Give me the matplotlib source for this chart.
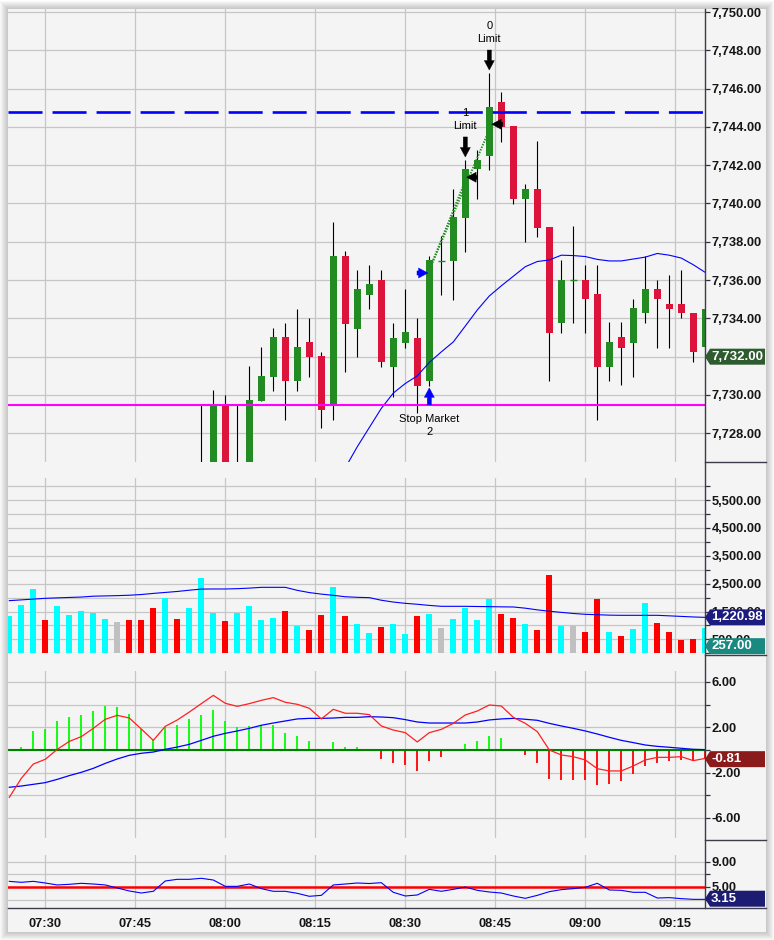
import numpy as np
import matplotlib
matplotlib.use("Agg")
import matplotlib.pyplot as plt
from matplotlib.patches import Polygon, Rectangle
from matplotlib.lines import Line2D
from matplotlib.transforms import IdentityTransform
from matplotlib.ticker import FuncFormatter

plt.rcParams['font.family'] = ['Liberation Sans', 'DejaVu Sans']
plt.rcParams['font.weight'] = 'bold'
plt.rcParams['lines.scale_dashes'] = False

# ---- data (2-minute bars, minutes from 07:30) ----
minutes = np.arange(-6, 111, 2)          # 07:24 ... 09:20
first_candle = 16                         # candles before 07:56 sit below the visible range

opens = [7725.8, 7725.9, 7729.48, 7725.6, 7726.0, 7729.7, 7730.96, 7733.05, 7730.75, 7732.77,
         7732.04, 7729.53, 7737.26, 7733.46, 7735.22, 7736.0, 7731.48, 7732.73, 7733.0, 7730.75,
         7737.0, 7737.0, 7739.26, 7741.79, 7742.5, 7745.3, 7744.05, 7740.24, 7740.76, 7738.77,
         7733.74, 7736.0, 7736.0, 7735.27, 7731.48, 7733.05, 7732.73, 7734.26, 7735.53, 7734.75,
         7734.75, 7734.26, 7732.5]
closes = [7726.2, 7729.48, 7725.8, 7726.0, 7729.74, 7731.0, 7733.05, 7730.75, 7732.52, 7732.0,
          7729.2, 7737.26, 7733.7, 7735.53, 7735.8, 7731.74, 7733.0, 7733.27, 7730.49, 7737.05,
          7737.0, 7739.3, 7741.8, 7742.27, 7745.05, 7744.0, 7740.24, 7740.76, 7738.74, 7733.25,
          7736.0, 7736.0, 7735.0, 7731.48, 7732.78, 7732.47, 7734.52, 7735.53, 7735.0, 7734.49,
          7734.26, 7732.23, 7734.5]
highs = [7729.5, 7730.26, 7730.0, 7729.5, 7731.5, 7732.5, 7733.5, 7733.74, 7734.5, 7734.0,
         7732.26, 7739.05, 7737.5, 7736.53, 7736.8, 7736.53, 7733.74, 7735.53, 7734.0, 7737.26,
         7738.3, 7740.76, 7742.27, 7742.8, 7746.83, 7745.8, 7744.05, 7741.0, 7743.26, 7738.77,
         7737.05, 7738.8, 7736.8, 7736.8, 7733.8, 7733.8, 7735.0, 7737.26, 7736.0, 7736.27,
         7736.53, 7734.26, 7734.5]
lows = [7725.5, 7725.5, 7725.4, 7725.3, 7725.8, 7729.7, 7730.2, 7728.7, 7730.2, 7730.96,
        7728.26, 7728.7, 7731.2, 7732.0, 7734.5, 7731.48, 7729.9, 7732.47, 7729.04, 7730.49,
        7735.2, 7734.96, 7737.48, 7740.24, 7741.75, 7743.2, 7739.97, 7738.0, 7738.27, 7730.75,
        7733.25, 7733.74, 7733.25, 7728.7, 7730.75, 7730.5, 7730.96, 7733.74, 7732.47, 7732.47,
        7734.0, 7731.74, 7732.5]

price_ma_start = 28
price_ma = [7726.2, 7727.3, 7728.3, 7729.3, 7730.1, 7730.6, 7731.0, 7731.7, 7732.25, 7732.77,
            7733.6, 7734.44, 7735.17, 7735.7, 7736.2, 7736.7, 7736.97, 7737.05, 7737.3, 7737.28,
            7737.23, 7737.08, 7737.0, 7737.0, 7737.1, 7737.2, 7737.39, 7737.3, 7737.15, 7736.8,
            7736.4]

stop_level = 7729.48
target_level = 7744.78
last_price = 7732.0

volume = [1340, 1734, 2309, 1196, 1699, 1376, 1519, 1447, 1232, 1124,
          1196, 1196, 1627, 1998, 1232, 1627, 2703, 1447, 1160, 1447,
          1699, 1196, 1268, 1519, 993, 837, 1376, 2380, 1340, 1053,
          730, 945, 1053, 694, 1340, 1411, 909, 1232, 1639, 1196,
          1950, 1411, 1268, 1053, 837, 2811, 993, 993, 766, 1950,
          766, 622, 873, 1806, 1089, 766, 478, 514, 900]
vol_dir = ['u', 'u', 'u', 'd', 'u', 'u', 'u', 'u', 'u', 'n',
           'd', 'd', 'd', 'u', 'd', 'u', 'u', 'u', 'd', 'u',
           'u', 'u', 'u', 'd', 'u', 'd', 'd', 'u', 'd', 'u',
           'u', 'd', 'u', 'u', 'd', 'u', 'n', 'u', 'u', 'u',
           'u', 'd', 'd', 'u', 'd', 'd', 'u', 'n', 'd', 'd',
           'u', 'd', 'u', 'u', 'd', 'd', 'd', 'd', 'u']
vol_ma = [1890, 1918, 1946, 1974, 1990, 2005, 2020, 2050, 2060, 2070,
          2085, 2110, 2150, 2185, 2220, 2265, 2305, 2309, 2309, 2320,
          2340, 2368, 2368, 2368, 2260, 2180, 2125, 2080, 2030, 2010,
          1998, 1905, 1840, 1794, 1760, 1720, 1687, 1687, 1687, 1680,
          1675, 1668, 1663, 1620, 1560, 1510, 1470, 1430, 1400, 1385,
          1370, 1364, 1364, 1364, 1364, 1345, 1325, 1305, 1290]

macd = [-4.18, -2.5, -1.24, -0.82, 0.06, 0.76, 1.18, 1.91, 2.71, 3.06,
        2.82, 1.85, 0.85, 2.09, 2.65, 3.35, 4.09, 4.82, 4.12, 3.85,
        4.09, 4.38, 4.62, 4.21, 4.03, 3.68, 2.74, 3.59, 3.24, 3.24,
        3.12, 2.12, 1.76, 1.53, 0.71, 1.53, 1.82, 2.35, 3.09, 3.44,
        3.97, 3.88, 2.88, 2.35, 1.62, 0.0, -0.44, -0.59, -0.88, -1.65,
        -1.85, -1.85, -1.41, -0.88, -0.65, -0.65, -0.59, -0.94, -0.74]
macd_avg = [-3.29, -3.18, -3.03, -2.88, -2.59, -2.26, -1.97, -1.62, -1.18, -0.79,
            -0.47, -0.29, -0.18, 0.06, 0.26, 0.5, 0.85, 1.21, 1.47, 1.68,
            1.91, 2.18, 2.38, 2.56, 2.74, 2.79, 2.79, 2.82, 2.88, 2.88,
            2.94, 2.91, 2.85, 2.68, 2.47, 2.38, 2.38, 2.38, 2.38, 2.47,
            2.65, 2.74, 2.79, 2.71, 2.62, 2.35, 2.12, 1.91, 1.68, 1.41,
            1.12, 0.85, 0.65, 0.44, 0.32, 0.24, 0.15, 0.06, 0.03]
macd_diff = [0.0, 0.24, 1.68, 1.85, 2.56, 2.91, 3.09, 3.44, 3.88, 3.79,
             3.18, 1.88, 0.88, 2.03, 2.21, 2.74, 3.09, 3.53, 2.56, 2.0,
             2.12, 2.18, 2.21, 1.5, 1.24, 0.79, -0.06, 0.74, 0.26, 0.26,
             0.12, -0.79, -1.12, -1.32, -1.85, -0.97, -0.65, 0.09, 0.56, 0.79,
             1.24, 1.06, 0.09, -0.44, -1.15, -2.53, -2.62, -2.62, -2.62, -3.06,
             -2.97, -2.71, -2.09, -1.41, -1.15, -0.97, -0.88, -0.97, -0.8]

osc = [5.89, 5.74, 5.89, 5.63, 5.32, 5.42, 5.58, 5.47, 5.32, 4.84,
       4.37, 4.05, 4.32, 5.95, 6.21, 6.21, 6.37, 6.1, 5.1, 5.1,
       5.47, 4.74, 4.32, 4.32, 4.0, 3.53, 3.68, 5.32, 5.47, 5.63,
       5.55, 5.68, 4.16, 3.58, 3.74, 4.63, 4.32, 4.63, 5.0, 4.47,
       4.21, 4.05, 3.58, 3.21, 3.68, 4.26, 4.58, 4.74, 4.95, 5.58,
       4.53, 4.47, 4.16, 4.16, 3.26, 3.32, 3.16, 3.05, 3.05]
osc_level = 5.0

time_ticks = [0, 15, 30, 45, 60, 75, 90, 105]
time_labels = ['07:30', '07:45', '08:00', '08:15', '08:30', '08:45', '09:00', '09:15']

# ---- layout (pixels) ----
W, H = 774, 940
BG = '#f4f4f4'
GRID = '#c6c6c6'
LEFT, RIGHT = 8, 705
XMIN, XMAX = -6.22, 109.95

fig = plt.figure(figsize=(W / 100, H / 100), dpi=100)
fig.patch.set_facecolor('white')

# soft shadow round the chart frame
for k in range(8, 0, -1):
    fig.add_artist(Rectangle(((8 - k) / W, 1 - (932 + k) / H), (758 + 2 * k) / W, (923 + 2 * k) / H,
                             transform=fig.transFigure, facecolor='black', edgecolor='none',
                             alpha=0.028, zorder=-10))
fig.add_artist(Rectangle((8 / W, 1 - 932 / H), 758 / W, 923 / H, transform=fig.transFigure,
                         facecolor=BG, edgecolor='none', zorder=-9))


def make_ax(top, bottom, ylim, ticks, fmt):
    ax = fig.add_axes([LEFT / W, 1 - bottom / H, (RIGHT - LEFT) / W, (bottom - top) / H])
    ax.set_facecolor('none')
    for s in ax.spines.values():
        s.set_visible(False)
    ax.set_xlim(XMIN, XMAX)
    ax.set_ylim(*ylim)
    ax.yaxis.tick_right()
    ax.set_yticks(ticks)
    ax.yaxis.set_major_formatter(FuncFormatter(fmt))
    ax.set_xticks(time_ticks)
    ax.tick_params(axis='y', direction='out', length=3.5, width=0.9, pad=1.2,
                   colors='#33333f', labelcolor='#151515', labelsize=9.3)
    ax.tick_params(axis='x', length=0, labelbottom=False)
    ax.grid(True, color=GRID, lw=0.9)
    ax.set_axisbelow(True)
    return ax


# the 7,732.00 tick sits under the last-price flag, so its label is left out
ax_p = make_ax(9, 462, (7726.5, 7750.157), np.arange(7728, 7751, 2),
               lambda v, p: '' if abs(v - last_price) < 0.5 else f'{v:,.2f}')
ax_v = make_ax(478, 653.33, (0, 6291), np.arange(0, 6001, 500),
               lambda v, p: f'{v:,.2f}' if v % 1000 == 500 else '')
ax_m = make_ax(671, 837.7, (-7.74, 6.97), np.arange(-6, 7, 2),
               lambda v, p: f'{v:.2f}' if abs(v) in (2, 6) else '')
ax_o = make_ax(855, 908.3, (1.636, 10.05), [3, 5, 7, 9],
               lambda v, p: f'{v:.2f}' if v in (5, 9) else '')
ax_o.set_xticklabels(time_labels)
ax_o.tick_params(axis='x', labelbottom=True, pad=7, labelsize=9.3, labelcolor='#151515')

# ---- price panel ----
cx = minutes[first_candle:]
up_c, dn_c = '#228b22', '#dc143c'
ax_p.vlines(cx, lows, highs, color='black', lw=0.8, zorder=2)
for x, o, c in zip(cx, opens, closes):
    if abs(c - o) < 1e-9:
        ax_p.hlines(o, x - 0.55, x + 0.55, color=up_c, lw=1.0, zorder=3)
    else:
        ax_p.bar(x, abs(c - o), bottom=min(o, c), width=1.15,
                 color=up_c if c > o else dn_c, zorder=3)
ax_p.plot(minutes[price_ma_start:], price_ma, color='#0000ff', lw=0.8, zorder=4)
ax_p.axhline(stop_level, color='#ff00ff', lw=1.5, zorder=4)
ax_p.axhline(target_level, color='#0000ff', lw=1.9, ls=(0, (24.5, 7.2)), zorder=4)

# trade markers
entry = (63.78, 7736.37)
exit1 = (70.23, 7741.37)
exit2 = (74.4, 7744.14)
for ex in (exit1, exit2):
    ax_p.plot([entry[0], ex[0]], [entry[1], ex[1]], color='#228b22', lw=1.4, ls=(0, (1, 1)), zorder=5)


def arrow(x, y, dx_px, dy_px, color):
    ax_p.annotate('', xy=(x, y), xytext=(dx_px * 0.72, dy_px * 0.72), textcoords='offset points',
                  arrowprops=dict(arrowstyle='simple,head_length=0.8,head_width=0.85,tail_width=0.35',
                                  fc=color, ec=color, lw=0.3, shrinkA=0, shrinkB=0,
                                  mutation_scale=8.5), zorder=6)


arrow(entry[0], entry[1], -11, 0, '#0000ff')
arrow(64, 7730.37, 0, -17, '#0000ff')
arrow(70, 7742.43, 0, 20, 'black')
arrow(74, 7746.97, 0, 20, 'black')
arrow(exit1[0], exit1[1], 11, 0, 'black')
arrow(exit2[0], exit2[1], 11, 0, 'black')

note = dict(fontsize=8, fontweight='normal', ha='center', va='center', color='black', zorder=6)
ax_p.text(64, 7728.75, 'Stop Market', **note)
ax_p.text(64, 7728.08, '2', **note)
ax_p.text(70, 7744.75, '1', **note)
ax_p.text(70, 7744.05, 'Limit', **note)
ax_p.text(74, 7749.28, '0', **note)
ax_p.text(74, 7748.59, 'Limit', **note)

# ---- volume panel ----
vcol = {'u': '#00ffff', 'd': '#ff0000', 'n': '#c0c0c0'}
ax_v.bar(minutes, volume, width=1.0, color=[vcol[d] for d in vol_dir], zorder=3)
ax_v.plot(minutes, vol_ma, color='#0000ff', lw=0.8, zorder=4)

# ---- MACD panel ----
diff = np.array(macd_diff)
ax_m.vlines(minutes, 0, diff, colors=np.where(diff >= 0, '#00ff00', '#ff0000'), lw=1.3, zorder=3)
ax_m.axhline(0, color='#008000', lw=1.5, zorder=4)
ax_m.plot(minutes, macd_avg, color='#0000ff', lw=0.9, zorder=5)
ax_m.plot(minutes, macd, color='#ff2020', lw=0.9, zorder=5)

# ---- bottom oscillator ----
ax_o.plot(minutes, osc, color='#0000ff', lw=0.8, zorder=4)
ax_o.axhline(osc_level, color='#ff0000', lw=1.8, zorder=3)

# ---- frame lines ----
edge = '#3c3c4a'
fig.add_artist(Line2D([RIGHT / W, RIGHT / W], [1 - 9 / H, 1 - 908.3 / H], color=edge, lw=1.0,
                      transform=fig.transFigure))
for yy in (462, 655, 840):
    fig.add_artist(Line2D([RIGHT / W, 766 / W], [1 - yy / H, 1 - yy / H], color=edge, lw=1.0,
                          transform=fig.transFigure))
fig.add_artist(Line2D([LEFT / W, 766 / W], [1 - 908.3 / H, 1 - 908.3 / H], color=edge, lw=1.0,
                      transform=fig.transFigure))


# ---- value flags on the right axis ----
def value_box(ax, val, text, color, h=16):
    y = ax.transData.transform((0, val))[1]
    x0, x1, tip = RIGHT, 765, 5
    pts = [(x0, y), (x0 + tip, y + h / 2), (x1, y + h / 2), (x1, y - h / 2), (x0 + tip, y - h / 2)]
    fig.add_artist(Polygon(pts, closed=True, transform=IdentityTransform(),
                           facecolor=color, edgecolor='none', zorder=8))
    fig.add_artist(plt.Text(x0 + tip + 1, y, text, transform=IdentityTransform(), color='white',
                            fontsize=9.5, fontweight='bold', ha='left', va='center', zorder=9))


value_box(ax_p, last_price, '7,732.00', '#2e5c2e')
value_box(ax_v, vol_ma[-1], '1,220.98', '#1c1c80')
value_box(ax_v, 257, '257.00', '#1a8a80')
value_box(ax_m, -0.81, '-0.81', '#8b1a1a')
value_box(ax_o, 3.15, '3.15', '#1c1c72')

fig.savefig('out.png', dpi=100)
